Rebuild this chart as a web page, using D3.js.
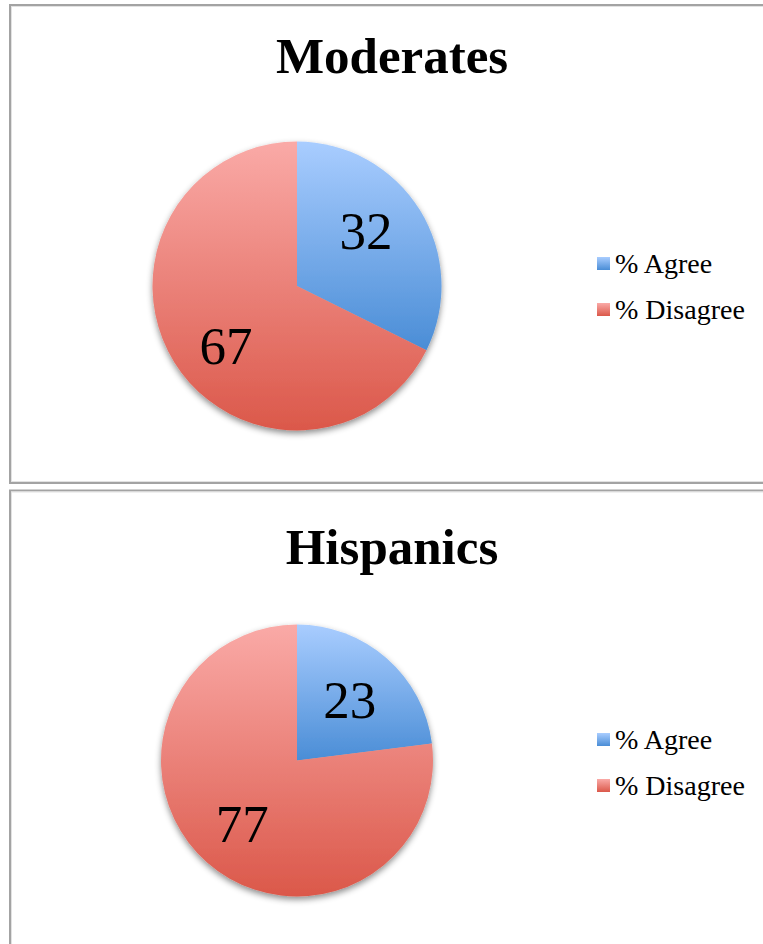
<!DOCTYPE html>
<html>
<head>
<meta charset="utf-8">
<script src="https://cdn.jsdelivr.net/npm/d3@7"></script>
<style>
  html, body { margin: 0; padding: 0; background: #ffffff; }
  svg { display: block; }
</style>
</head>
<body>
<svg id="chart" width="763" height="944"></svg>
<script>
// ---- data ----
const titles = ["Moderates", "Hispanics"];
const categories = ["% Agree", "% Disagree"];
const moderatesValues = [32, 67];
const hispanicsValues = [23, 77];
const seriesValues = [moderatesValues, hispanicsValues];

// ---- layout (not data) ----
const layout = [
  { top: 5, bottom: 483, cx: 297, cy: 286, r: 144.5, titleY: 73, legendY: 273,
    nudge: [[-6, -9], [4, 14]] },
  { top: 490.5, bottom: 960, cx: 297, cy: 760.5, r: 136, titleY: 563.5, legendY: 749,
    nudge: [[-2, 2], [0, 1]] }
];
const panelLeft = 10, panelRight = 774;
const gradStops = [
  ["#a9cdff", "#4a8dd6"],
  ["#faaaa7", "#db584a"]
];

const svg = d3.select("#chart");
const defs = svg.append("defs");

gradStops.forEach((s, i) => {
  const g = defs.append("linearGradient")
    .attr("id", "grad" + i)
    .attr("x1", 0).attr("y1", 0).attr("x2", 0).attr("y2", 1);
  g.append("stop").attr("offset", "0%").attr("stop-color", s[0]);
  g.append("stop").attr("offset", "100%").attr("stop-color", s[1]);
});

const shadow = defs.append("filter").attr("id", "shadow")
  .attr("x", "-20%").attr("y", "-20%").attr("width", "140%").attr("height", "140%");
shadow.append("feDropShadow")
  .attr("dx", 0).attr("dy", 3).attr("stdDeviation", 3)
  .attr("flood-color", "#000").attr("flood-opacity", 0.45);

const color = d3.scaleOrdinal().domain(categories).range(categories.map((c, i) => "url(#grad" + i + ")"));

const pie = d3.pie().sort(null).value(d => d.value);

titles.forEach((title, p) => {
  const L = layout[p];
  const g = svg.append("g");

  g.append("rect")
    .attr("x", panelLeft).attr("y", L.top)
    .attr("width", panelRight - panelLeft).attr("height", L.bottom - L.top)
    .attr("fill", "#ffffff").attr("stroke", "#a3a3a3").attr("stroke-width", 2);
  g.append("rect")
    .attr("x", panelLeft + 1.5).attr("y", L.top + 1.5)
    .attr("width", panelRight - panelLeft - 3).attr("height", L.bottom - L.top - 3)
    .attr("fill", "none").attr("stroke", "#e2e2e2").attr("stroke-width", 1);

  g.append("text")
    .attr("x", 392).attr("y", L.titleY)
    .attr("text-anchor", "middle")
    .attr("font-family", "'Liberation Serif', serif")
    .attr("font-weight", "bold")
    .attr("font-size", 51)
    .attr("fill", "#000")
    .text(title);

  const data = categories.map((c, i) => ({ category: c, value: seriesValues[p][i] }));
  const arcs = pie(data);
  const arc = d3.arc().innerRadius(0).outerRadius(L.r);
  const labelArc = d3.arc().innerRadius(L.r * 0.61).outerRadius(L.r * 0.61);

  const pg = g.append("g").attr("transform", `translate(${L.cx},${L.cy})`);
  pg.append("g").attr("filter", "url(#shadow)")
    .selectAll("path").data(arcs).join("path")
    .attr("d", arc)
    .attr("fill", d => color(d.data.category));

  pg.selectAll("text.lbl").data(arcs).join("text")
    .attr("class", "lbl")
    .attr("x", (d, i) => labelArc.centroid(d)[0] + L.nudge[i][0])
    .attr("y", (d, i) => labelArc.centroid(d)[1] + 18 + L.nudge[i][1])
    .attr("text-anchor", "middle")
    .attr("font-family", "'Liberation Serif', serif")
    .attr("font-size", 53)
    .attr("fill", "#000")
    .text(d => d.data.value);

  const lg = g.append("g").attr("transform", `translate(597,${L.legendY})`);
  const items = lg.selectAll("g").data(categories).join("g")
    .attr("transform", (d, i) => `translate(0,${i * 46})`);
  items.append("rect")
    .attr("x", 0).attr("y", -16).attr("width", 13).attr("height", 13)
    .attr("fill", d => color(d));
  items.append("text")
    .attr("x", 18).attr("y", 0)
    .attr("font-family", "'Liberation Serif', serif")
    .attr("font-size", 28)
    .attr("fill", "#000")
    .text(d => d);
});
</script>
</body>
</html>
